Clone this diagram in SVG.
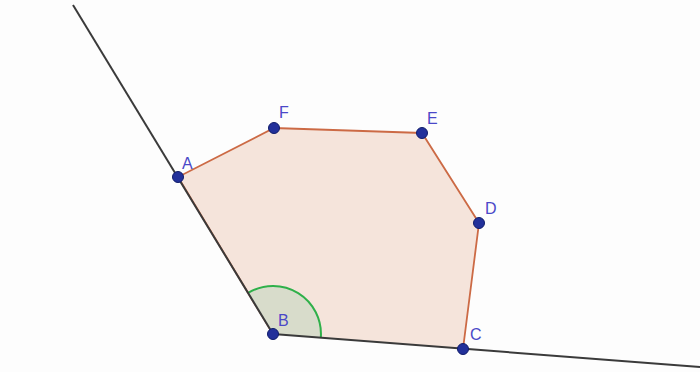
<svg xmlns="http://www.w3.org/2000/svg" width="700" height="372" viewBox="0 0 700 372">
<style>
.lbl{font-family:"Liberation Sans",Arial,sans-serif;font-size:16px;fill:#4a48c8}
.pt{fill:#22309a;stroke:#101c6a;stroke-width:1}
.ln{stroke:#3a3a3a;stroke-width:2;fill:none}
.edge{stroke:#cc6a45;stroke-width:1.8;fill:none}
</style>
<rect width="700" height="372" fill="#fdfdfd"/>
<g id="polygon">
<polygon points="178,177 274,128 422,133 479,223 463,349 273,334" fill="#f5e4db" stroke="none"/>
<path d="M273,334 L178,177 L274,128 L422,133 L479,223 L463,349" class="edge"/>
</g>
<g id="angle-B">
<path d="M273,334 L248.1,292.9 A48,48 0 0 1 320.8,337.8 Z" fill="#d8dccb" stroke="none"/>
<path d="M248.1,292.9 A48,48 0 0 1 320.8,337.8" fill="none" stroke="#2fb04a" stroke-width="2"/>
</g>
<g id="connectors">
<line class="ln" x1="73" y1="5" x2="273" y2="334"/>
<line class="ln" x1="273" y1="334" x2="700" y2="367"/>
</g>
<g id="A"><circle class="pt" cx="178" cy="177" r="5.5"/><text class="lbl" x="182" y="169">A</text></g>
<g id="F"><circle class="pt" cx="274" cy="128" r="5.5"/><text class="lbl" x="279" y="118">F</text></g>
<g id="E"><circle class="pt" cx="422" cy="133" r="5.5"/><text class="lbl" x="427" y="124">E</text></g>
<g id="D"><circle class="pt" cx="479" cy="223" r="5.5"/><text class="lbl" x="485" y="214">D</text></g>
<g id="C"><circle class="pt" cx="463" cy="349" r="5.5"/><text class="lbl" x="470" y="340">C</text></g>
<g id="B"><circle class="pt" cx="273" cy="334" r="5.5"/><text class="lbl" x="278" y="326">B</text></g>
</svg>
